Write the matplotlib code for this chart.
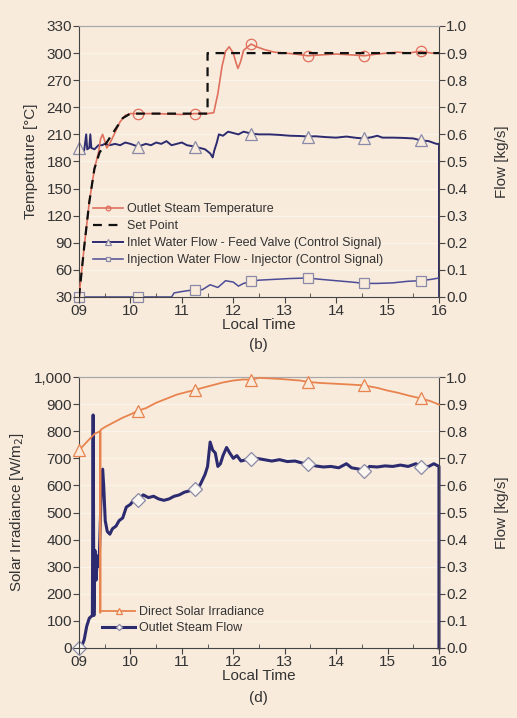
import matplotlib
matplotlib.use("Agg")
import matplotlib.pyplot as plt
from matplotlib.ticker import MultipleLocator, FuncFormatter

plt.rcParams['font.family'] = ['Liberation Sans', 'DejaVu Sans']

# ---- panel (b) data ----
temp_t = [9.0, 9.1, 9.2, 9.3, 9.38, 9.42, 9.46, 9.5, 9.54, 9.6, 9.7, 9.8, 9.9, 10.0,
          10.15, 10.5, 11.0, 11.25, 11.5, 11.62, 11.7, 11.78, 11.85, 11.92, 12.0, 12.05,
          12.09, 12.14, 12.2, 12.28, 12.35, 12.45, 12.6, 12.8, 13.0, 13.2, 13.45, 13.7,
          14.0, 14.3, 14.55, 14.8, 15.0, 15.2, 15.4, 15.65, 15.85, 16.0]
temp_v = [30, 85, 135, 172, 190, 205, 210, 203, 195, 200, 212, 224, 231, 233,
          233, 233, 232, 233, 233, 234, 255, 285, 302, 307, 300, 290,
          283, 290, 303, 307, 310, 307, 304, 301, 300, 299, 297, 298,
          299, 298, 297, 299, 300, 301, 300, 302, 300, 300]

setp_t = [9.0, 9.1, 9.2, 9.3, 9.4, 9.55, 9.7, 9.85, 10.0, 11.5, 11.5, 16.0]
setp_v = [30, 85, 135, 172, 190, 202, 215, 228, 233, 233, 300, 300]

inlet_t = [9.0, 9.05, 9.1, 9.14, 9.16, 9.2, 9.22, 9.24, 9.3, 9.38, 9.45, 9.5, 9.6,
           9.7, 9.8, 9.9, 10.0, 10.15, 10.3, 10.4, 10.5, 10.6, 10.7, 10.8, 10.9, 11.0,
           11.1, 11.25, 11.35, 11.45, 11.55, 11.6, 11.63, 11.68, 11.72, 11.8, 11.9,
           12.0, 12.1, 12.2, 12.35, 12.5, 12.7, 12.9, 13.1, 13.3, 13.45, 13.6, 13.8,
           14.0, 14.2, 14.4, 14.55, 14.7, 14.8, 14.9, 15.1, 15.3, 15.5, 15.65, 15.8,
           15.95, 16.0, 16.0]
inlet_v = [0.55, 0.545, 0.54, 0.6, 0.545, 0.55, 0.6, 0.55, 0.545, 0.56, 0.56, 0.565, 0.56,
           0.565, 0.56, 0.57, 0.565, 0.555, 0.565, 0.56, 0.57, 0.565, 0.575, 0.56, 0.565, 0.57,
           0.56, 0.555, 0.55, 0.545, 0.53, 0.515, 0.54, 0.57, 0.6, 0.595, 0.61,
           0.605, 0.6, 0.61, 0.603, 0.6, 0.6, 0.598, 0.595, 0.594, 0.592, 0.593, 0.59,
           0.588, 0.592, 0.587, 0.585, 0.59, 0.595, 0.588, 0.588, 0.587, 0.585, 0.578, 0.575,
           0.565, 0.565, 0.0]

inj_t = [9.0, 10.15, 10.8, 10.85, 11.0, 11.25, 11.4, 11.55, 11.7, 11.85, 12.0, 12.1,
         12.2, 12.35, 12.5, 12.8, 13.1, 13.45, 13.7, 14.0, 14.3, 14.55, 14.8, 15.1,
         15.4, 15.65, 15.85, 16.0, 16.0]
inj_v = [0.0, 0.0, 0.0, 0.015, 0.02, 0.027, 0.027, 0.045, 0.035, 0.06, 0.055, 0.04,
         0.05, 0.058, 0.062, 0.065, 0.068, 0.07, 0.065, 0.06, 0.055, 0.05, 0.05, 0.052,
         0.058, 0.06, 0.065, 0.07, 0.0]

# ---- panel (d) data ----
irr_t = [9.0, 9.1, 9.2, 9.3, 9.41, 9.415, 9.42, 9.5, 9.7, 9.85, 10.0, 10.15, 10.3,
         10.5, 10.7, 10.9, 11.1, 11.25, 11.4, 11.6, 11.8, 12.0, 12.2, 12.35, 12.5,
         12.7, 12.9, 13.1, 13.3, 13.45, 13.7, 13.9, 14.1, 14.3, 14.55, 14.8, 15.0,
         15.2, 15.4, 15.65, 15.85, 16.0]
irr_v = [730, 750, 770, 790, 800, 130, 805, 815, 835, 850, 862, 876, 885,
         905, 920, 935, 945, 952, 960, 970, 980, 987, 991, 990, 997,
         995, 993, 990, 987, 982, 978, 976, 974, 972, 969, 960, 950,
         942, 932, 921, 910, 898]

steam_t = [9.0, 9.05, 9.1, 9.15, 9.2, 9.26, 9.275, 9.29, 9.31, 9.33, 9.36, 9.39, 9.42,
           9.44, 9.46, 9.48, 9.51, 9.55, 9.6, 9.65, 9.72, 9.78, 9.85, 9.92, 10.0, 10.08,
           10.15, 10.25, 10.35, 10.45, 10.55, 10.65, 10.75, 10.85, 10.95, 11.05, 11.15,
           11.25, 11.35, 11.45, 11.5, 11.55, 11.6, 11.65, 11.7, 11.75, 11.8, 11.87, 11.93,
           12.0, 12.07, 12.15, 12.25, 12.35, 12.45, 12.6, 12.75, 12.9, 13.05, 13.2, 13.35,
           13.45, 13.6, 13.75, 13.9, 14.05, 14.2, 14.3, 14.45, 14.55, 14.65, 14.8, 14.95,
           15.1, 15.25, 15.4, 15.55, 15.65, 15.8, 15.9, 16.0, 16.0]
steam_v = [0.0, 0.005, 0.03, 0.08, 0.11, 0.12, 0.86, 0.12, 0.36, 0.25, 0.34, 0.3, 0.5,
           0.64, 0.66, 0.6, 0.47, 0.43, 0.42, 0.44, 0.45, 0.47, 0.48, 0.52, 0.53, 0.55,
           0.548, 0.565, 0.555, 0.56, 0.55, 0.545, 0.55, 0.56, 0.565, 0.575, 0.58,
           0.588, 0.6, 0.64, 0.67, 0.76, 0.73, 0.72, 0.67, 0.68, 0.71, 0.74, 0.72,
           0.7, 0.71, 0.69, 0.695, 0.697, 0.7, 0.695, 0.69, 0.695, 0.688, 0.69, 0.682,
           0.679, 0.672, 0.668, 0.67, 0.665, 0.68, 0.665, 0.66, 0.652, 0.67, 0.668, 0.672,
           0.67, 0.675, 0.67, 0.68, 0.668, 0.67, 0.68, 0.67, 0.0]

mark_t = [9.0, 10.15, 11.25, 12.35, 13.45, 14.55, 15.65]
hour_labels = ['09', '10', '11', '12', '13', '14', '15', '16']

bg = '#f8ebdc'
red = '#e0705e'
orange = '#e8834e'
navy = '#2d2b70'
inj_col = '#4c4c96'
edge_grey = '#8a8aa8'
txt = '#333333'


def marks(times, skip_first=False):
    idx = [times.index(m) for m in mark_t]
    return idx[1:] if skip_first else idx


def style_axes(ax, ax2, ylab, ylab2):
    ax.set_facecolor(bg)
    ax.set_xlim(9, 16)
    ax.xaxis.set_minor_locator(MultipleLocator(0.5))
    ax.set_xticks(range(9, 17))
    ax.set_xticklabels(hour_labels)
    ax.tick_params(axis='x', which='major', direction='out', length=4, colors='#444444',
                   labelsize=11, labelcolor=txt, pad=1)
    ax.tick_params(axis='x', which='minor', direction='in', length=3, colors='#444444')
    ax.tick_params(axis='y', direction='out', length=4, colors='#444444', labelsize=11,
                   labelcolor=txt, pad=1)
    ax2.tick_params(axis='y', direction='out', length=4, colors='#444444', labelsize=11,
                    labelcolor=txt, pad=1)
    for s in ['left', 'bottom']:
        ax.spines[s].set_color('#444444')
    ax.spines['top'].set_color('#a8a8a8')
    ax.spines['right'].set_visible(False)
    ax2.spines['right'].set_color('#444444')
    ax2.spines['top'].set_color('#a8a8a8')
    ax2.spines['left'].set_visible(False)
    ax2.spines['bottom'].set_visible(False)
    ax.set_ylabel(ylab, fontsize=11, color=txt, labelpad=6)
    ax2.set_ylabel(ylab2, fontsize=11, color=txt, labelpad=20)
    ax.set_xlabel('Local Time', fontsize=11, color=txt, labelpad=0)
    ax2.set_ylim(0, 1.0)
    ax2.yaxis.set_major_locator(MultipleLocator(0.1))
    ax2.yaxis.set_major_formatter(FuncFormatter(lambda v, p: f'{v:.1f}'))
    # twin axis sits behind so left-axis series draw on top
    ax2.set_zorder(ax.get_zorder() - 1)
    ax.patch.set_visible(False)
    ax2.patch.set_facecolor(bg)
    ax2.yaxis.grid(True, color='#fcf3ea', lw=0.9)
    ax2.set_axisbelow(True)


fig = plt.figure(figsize=(5.17, 7.18), dpi=100, facecolor=bg)

# ---------- (b) ----------
ax1 = fig.add_axes([0.1528, 0.5864, 0.6963, 0.3774])
ax1b = ax1.twinx()
style_axes(ax1, ax1b, 'Temperature [°C]', 'Flow [kg/s]')
ax1.set_ylim(30, 330)
ax1.yaxis.set_major_locator(MultipleLocator(30))

l1, = ax1.plot(temp_t, temp_v, color=red, lw=1.2, marker='o', ms=7.5, mfc='none',
               mec=red, mew=0.9, markevery=marks(temp_t, True), zorder=4,
               label='Outlet Steam Temperature')
l2, = ax1.plot(setp_t, setp_v, color='#111111', lw=1.6, ls=(0, (4, 3)), zorder=5,
               label='Set Point')
l3, = ax1b.plot(inlet_t, inlet_v, color=navy, lw=1.4, marker='^', ms=8.5, mfc=bg,
                mec=edge_grey, mew=0.9, markevery=marks(inlet_t), clip_on=False,
                label='Inlet Water Flow - Feed Valve (Control Signal)')
l4, = ax1b.plot(inj_t, inj_v, color=inj_col, lw=1.1, marker='s', ms=7, mfc=bg,
                mec=edge_grey, mew=0.9, markevery=marks(inj_t), clip_on=False,
                label='Injection Water Flow - Injector (Control Signal)')

leg1 = ax1.legend(handles=[l1, l2, l3, l4], loc='center left', bbox_to_anchor=(0.04, 0.23),
                  frameon=False, fontsize=9, handlelength=2.4, handletextpad=0.3,
                  labelspacing=0.4, markerscale=0.45, borderaxespad=0, borderpad=0)
for t in leg1.get_texts():
    t.set_color(txt)
fig.text(0.5, 0.5195, '(b)', ha='center', va='center', fontsize=11, color=txt)

# ---------- (d) ----------
ax3 = fig.add_axes([0.1528, 0.0975, 0.6963, 0.3774])
ax3b = ax3.twinx()
style_axes(ax3, ax3b, 'Solar Irradiance [W/m$_2$]', 'Flow [kg/s]')
ax3.set_ylim(0, 1000)
ax3.yaxis.set_major_locator(MultipleLocator(100))
ax3.yaxis.set_major_formatter(FuncFormatter(lambda v, p: f'{int(v):,}'))

l5, = ax3.plot(irr_t, irr_v, color=orange, lw=1.3, marker='^', ms=8.5, mfc=bg,
               mec=orange, mew=0.9, markevery=marks(irr_t), clip_on=False, zorder=4,
               label='Direct Solar Irradiance')
l6, = ax3b.plot(steam_t, steam_v, color=navy, lw=2.2, marker='D', ms=7, mfc='#fbf6f0',
                mec=edge_grey, mew=0.9, markevery=marks(steam_t), clip_on=False,
                label='Outlet Steam Flow')

leg2 = ax3.legend(handles=[l5, l6], loc='center left', bbox_to_anchor=(0.065, 0.103),
                  frameon=False, fontsize=9, handlelength=2.6, handletextpad=0.35,
                  labelspacing=0.3, markerscale=0.45, borderaxespad=0, borderpad=0)
for t in leg2.get_texts():
    t.set_color(txt)
fig.text(0.5, 0.028, '(d)', ha='center', va='center', fontsize=11, color=txt)

fig.savefig('out.png', dpi=100, facecolor=bg)
